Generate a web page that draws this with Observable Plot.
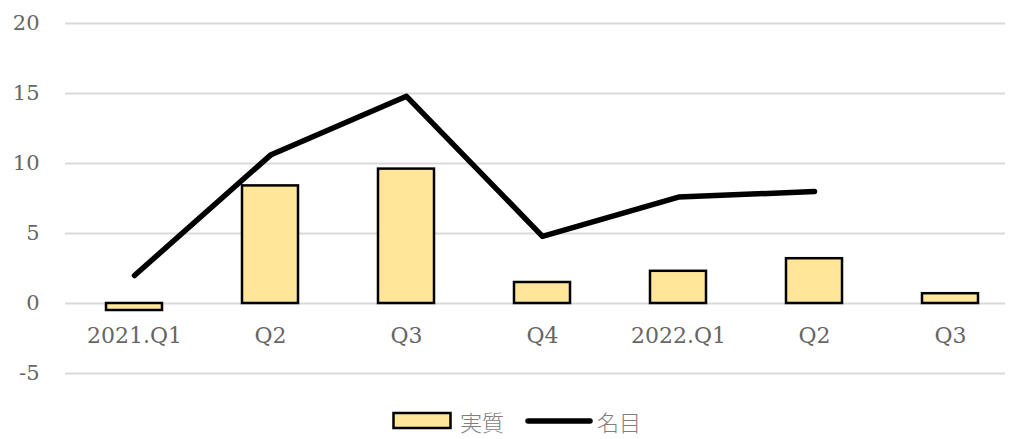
<!DOCTYPE html>
<html>
<head>
<meta charset="utf-8">
<script src="https://cdn.jsdelivr.net/npm/d3@7"></script>
<script src="https://cdn.jsdelivr.net/npm/@observablehq/plot@0.6"></script>
<style>
  html, body { margin: 0; padding: 0; background: #fff; }
  #chart { position: relative; width: 1009px; height: 439px; overflow: hidden; }
  #legend { position: absolute; left: 392px; top: 404px; height: 34px; line-height: 32px;
    display: flex; align-items: center;
    font-family: "Noto Sans CJK JP", sans-serif; font-weight: 300; font-size: 22px; color: #7f7f7f; }
  .item { display: flex; align-items: center; }
</style>
</head>
<body>
<div id="chart"></div>
<script>
const categories = ["2021.Q1", "Q2", "Q3", "Q4", "2022.Q1", "Q2 ", "Q3 "];
const labels = ["2021.Q1", "Q2", "Q3", "Q4", "2022.Q1", "Q2", "Q3"];
const real = [-0.5, 8.4, 9.6, 1.5, 2.3, 3.2, 0.7];
const nominal = [2.0, 10.6, 14.8, 4.8, 7.6, 8.0, null];
const yTicks = [-5, 0, 5, 10, 15, 20];

const barData = categories.map((c, i) => ({cat: c, v: real[i]}));
const lineData = categories.map((c, i) => ({cat: c, v: nominal[i]})).filter(d => d.v != null);
const labelData = categories.map((c, i) => ({cat: c, label: labels[i]}));

const plot = Plot.plot({
  width: 1009,
  height: 405,
  marginLeft: 65,
  marginRight: 4,
  marginTop: 23,
  marginBottom: 32,
  style: {fontFamily: "DejaVu Serif, serif", fontSize: "22px", color: "#666", background: "#fff"},
  x: {domain: categories, range: [65, 1018], paddingInner: 0.59, paddingOuter: 0.295, axis: null},
  y: {domain: [-5, 20], ticks: yTicks, axis: null},
  marks: [
    Plot.ruleY(yTicks, {stroke: "#d9d9d9", strokeWidth: 2}),
    Plot.text(yTicks, {x: null, y: d => d, text: d => String(d), frameAnchor: "left", dx: -26, textAnchor: "end", fill: "#666", fontSize: 21}),
    Plot.barY(barData, {x: "cat", y: "v", fill: "#FFE699", stroke: "#000", strokeWidth: 2.5}),
    Plot.lineY(lineData, {x: "cat", y: "v", stroke: "#000", strokeWidth: 5.5, strokeLinecap: "round", strokeLinejoin: "round"}),
    Plot.text(labelData, {x: "cat", y: () => 0, text: "label", dy: 32, fill: "#666"})
  ]
});
document.getElementById("chart").appendChild(plot);

const legend = document.createElement("div");
legend.id = "legend";
legend.innerHTML = `
  <div class="item"><svg width="62" height="20"><rect x="1.5" y="2" width="57" height="15" fill="#FFE699" stroke="#000" stroke-width="2.5"/></svg><span style="margin-left:6px">実質</span></div>
  <div class="item" style="margin-left:20px"><svg width="70" height="20"><line x1="4" x2="66" y1="10" y2="10" stroke="#000" stroke-width="5.5" stroke-linecap="round"/></svg><span style="margin-left:3px">名目</span></div>`;
document.getElementById("chart").appendChild(legend);
</script>
</body>
</html>
